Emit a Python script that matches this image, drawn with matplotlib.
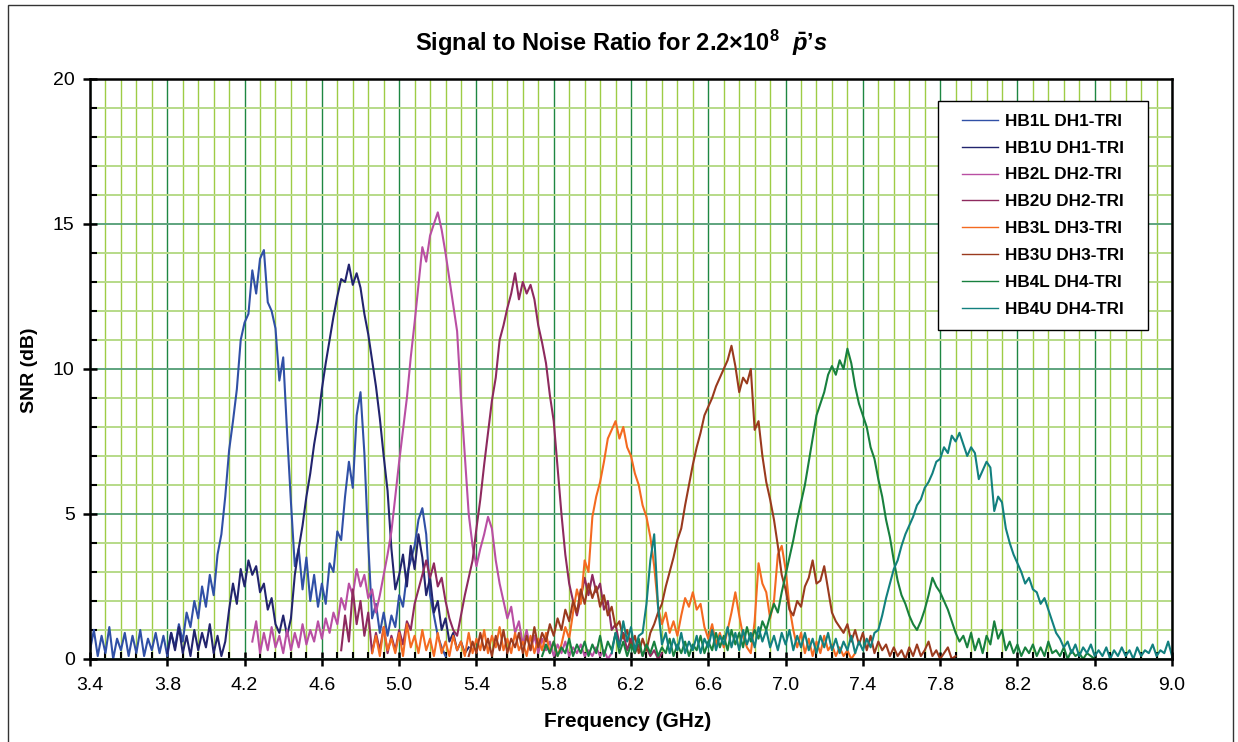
import numpy as np
import matplotlib
matplotlib.use('Agg')
import matplotlib.pyplot as plt
from matplotlib.patches import Rectangle
from matplotlib.ticker import MultipleLocator

plt.rcParams['font.family'] = 'Liberation Sans'
plt.rcParams['mathtext.fontset'] = 'custom'
plt.rcParams['mathtext.rm'] = 'Liberation Sans:bold'
plt.rcParams['mathtext.it'] = 'Liberation Sans:italic:bold'
plt.rcParams['mathtext.bf'] = 'Liberation Sans:bold'

# SNR traces, one value every 0.02 GHz from each start frequency
step = 0.02

hb1l_start = 3.40
hb1l = [0.3, 1.0, 0.1, 0.8, 0.2, 1.1, 0.0, 0.7, 0.3, 0.9, 0.1, 0.8, 0.2, 1.0, 0.1, 0.7,
        0.3, 0.9, 0.2, 0.8, 0.1, 0.9, 0.4, 1.2, 0.6, 1.6, 1.1, 2.0, 1.4, 2.5, 1.8, 2.9,
        2.2, 3.6, 4.3, 5.6, 7.2, 8.2, 9.3, 11.0, 11.6, 11.9, 13.4, 12.6, 13.8, 14.1, 12.3,
        12.0, 11.4, 9.6, 10.4, 7.8, 5.4, 3.2, 3.8, 2.4, 3.5, 2.0, 2.9, 1.8, 2.6, 1.9, 3.3,
        3.0, 4.4, 4.1, 5.6, 6.8, 5.9, 8.4, 9.2, 7.1, 4.0, 1.4, 1.9, 0.9, 1.6, 0.8, 1.5,
        1.1, 2.2, 1.8, 2.9, 3.4, 3.9, 4.8, 5.2, 4.3, 2.2, 1.5, 0.8, 0.4, 0.1]

hb1u_start = 3.80
hb1u = [0.2, 0.9, 0.3, 1.1, 0.2, 0.8, 0.1, 1.0, 0.3, 0.9, 0.4, 1.2, 0.2, 0.8, 0.1, 0.6,
        1.7, 2.6, 1.9, 3.1, 2.5, 3.4, 2.9, 3.2, 2.3, 2.6, 1.7, 2.1, 1.2, 0.9, 1.5, 0.8,
        1.4, 2.9, 3.8, 4.6, 5.6, 6.4, 7.4, 8.2, 9.3, 10.2, 11.0, 11.8, 12.5, 13.1, 13.0,
        13.6, 12.9, 13.3, 12.8, 11.9, 11.2, 10.3, 9.4, 8.3, 7.0, 5.8, 3.8, 2.4, 2.9, 3.6,
        2.5, 3.9, 3.1, 4.3, 3.5, 2.2, 2.8, 1.6, 2.0, 1.0, 1.4, 0.6, 0.9, 0.3, 0.6, 0.2, 0.4]

hb2l_start = 4.24
hb2l = [0.6, 1.3, 0.2, 0.9, 0.3, 1.1, 0.4, 0.8, 0.2, 1.0, 0.3, 0.9, 0.4, 1.2, 0.5, 1.0,
        0.6, 1.3, 0.7, 1.4, 0.9, 1.6, 1.2, 2.1, 1.7, 2.6, 2.2, 3.1, 2.5, 2.9, 2.1, 2.4,
        1.6, 2.2, 2.9, 3.6, 4.4, 5.6, 6.8, 7.9, 9.0, 10.4, 11.6, 12.9, 14.2, 13.7, 14.6,
        15.0, 15.4, 14.8, 14.0, 13.1, 12.2, 11.3, 9.0, 7.0, 5.0, 3.9, 3.2, 3.8, 4.3, 4.9,
        4.5, 3.4, 2.6, 2.0, 1.4, 1.8, 0.9, 1.3, 0.5, 1.0, 0.3, 0.8, 0.2, 0.7, 0.3, 0.6,
        0.1, 0.5, 0.2, 0.6, 0.1, 0.4, 0.2, 0.5, 0.1, 0.3, 0.1, 0.4, 0.1, 0.3, 0.0, 0.2]

hb2u_start = 4.70
hb2u = [0.3, 1.5, 0.6, 2.4, 1.2, 2.0, 0.8, 1.6, 0.2, 0.9, 0.3, 1.1, 0.2, 0.8, 0.3, 1.0,
        0.5, 1.3, 1.0, 1.9, 2.4, 2.9, 3.4, 2.8, 3.3, 2.5, 2.8, 2.0, 1.4, 1.0, 0.8, 1.5,
        2.2, 2.8, 3.4, 4.5, 5.5, 6.7, 7.8, 8.9, 9.7, 11.0, 11.5, 12.1, 12.6, 13.3, 12.4,
        13.0, 12.6, 12.9, 12.4, 11.5, 10.9, 10.2, 9.1, 8.2, 6.6, 5.0, 3.6, 2.6, 2.0, 1.5,
        2.1, 2.8, 2.2, 2.9, 2.3, 2.6, 1.7, 2.0, 1.0, 1.2, 0.5, 0.9, 0.3, 0.7, 0.2, 0.5,
        0.1, 0.4, 0.1, 0.3, 0.0, 0.2]

hb3l_start = 4.86
hb3l = [0.2, 0.8, 0.1, 1.1, 0.3, 0.7, 0.2, 0.9, 0.1, 1.2, 0.4, 0.8, 0.2, 1.0, 0.3, 0.7,
        0.1, 0.9, 0.2, 0.6, 0.1, 0.8, 0.3, 0.6, 0.1, 0.9, 0.2, 0.7, 0.3, 1.0, 0.2, 0.8,
        0.4, 1.1, 0.3, 0.7, 0.2, 0.9, 0.3, 0.6, 0.1, 0.8, 0.2, 0.7, 0.3, 0.9, 0.2, 0.6,
        0.1, 0.5, 1.1, 0.7, 1.6, 2.4, 1.9, 3.4, 3.0, 4.9, 5.6, 6.1, 6.8, 7.6, 7.9, 8.2,
        7.6, 8.0, 7.3, 7.0, 6.4, 6.0, 5.3, 4.9, 4.2, 3.2, 1.8, 1.2, 1.6, 0.9, 1.3, 0.8,
        1.5, 2.1, 1.8, 2.3, 1.7, 1.9, 1.1, 0.7, 1.2, 0.5, 0.9, 0.4, 1.0, 1.6, 2.3, 1.5,
        0.8, 0.4, 0.2, 1.3, 3.3, 2.6, 2.3, 1.4, 2.0, 3.6, 3.9, 3.1, 1.8, 1.0, 0.4, 0.9,
        0.2, 0.7, 0.1, 0.6, 0.2, 0.8, 0.3, 0.5, 0.1, 0.4, 0.1, 0.3, 0.0, 0.2]

hb3u_start = 5.36
hb3u = [0.1, 0.6, 0.2, 0.9, 0.3, 0.7, 0.1, 0.8, 0.3, 1.0, 0.2, 0.7, 0.4, 0.9, 0.2, 0.8,
        0.3, 1.1, 0.4, 0.9, 0.6, 1.2, 0.8, 1.4, 1.0, 1.7, 1.3, 2.0, 1.6, 2.4, 1.9, 2.6,
        2.1, 2.5, 1.8, 2.2, 1.5, 1.8, 1.1, 1.3, 0.7, 1.0, 0.4, 0.8, 0.2, 0.7, 0.3, 0.9,
        1.2, 1.6, 1.9, 2.5, 3.0, 3.5, 4.1, 4.5, 5.3, 6.0, 6.7, 7.3, 7.8, 8.4, 8.7, 9.0,
        9.4, 9.7, 10.0, 10.3, 10.8, 10.1, 9.2, 9.7, 9.5, 10.0, 7.9, 8.2, 7.0, 6.1, 5.5,
        4.8, 3.9, 2.9, 2.4, 1.7, 1.5, 2.0, 1.8, 2.5, 2.8, 3.4, 2.6, 2.7, 3.2, 2.4, 1.6,
        1.3, 1.1, 0.9, 1.2, 0.6, 1.0, 0.5, 0.9, 0.3, 0.8, 0.2, 0.6, 0.3, 0.5, 0.1, 0.4,
        0.1, 0.3, 0.0, 0.4, 0.1, 0.5, 0.1, 0.3, 0.6, 0.1, 0.3, 0.0, 0.2, 0.4, 0.0, 0.1]

hb4l_start = 5.74
hb4l = [0.1, 0.5, 0.2, 0.6, 0.1, 0.4, 0.2, 0.7, 0.1, 0.5, 0.2, 0.6, 0.1, 0.5, 0.2, 0.8,
        0.1, 0.6, 0.3, 0.9, 0.2, 0.6, 0.1, 0.5, 0.2, 0.7, 0.1, 0.5, 0.2, 0.6, 0.1, 0.4,
        0.2, 0.7, 0.1, 0.5, 0.2, 0.6, 0.1, 0.5, 0.3, 0.8, 0.2, 0.6, 0.3, 0.9, 0.4, 0.8,
        0.3, 1.0, 0.5, 0.9, 0.4, 1.1, 0.6, 1.0, 0.7, 1.3, 1.0, 1.5, 1.9, 1.6, 2.3, 2.9,
        3.5, 4.1, 4.8, 5.4, 6.0, 6.8, 7.6, 8.4, 8.8, 9.2, 9.8, 10.1, 9.8, 10.3, 10.0,
        10.7, 10.2, 9.4, 8.8, 8.4, 8.0, 7.3, 6.9, 6.2, 5.6, 4.8, 4.2, 3.4, 2.7, 2.2, 1.9,
        1.5, 1.2, 1.0, 1.3, 1.7, 2.2, 2.8, 2.5, 2.3, 2.0, 1.7, 1.3, 0.9, 0.6, 0.8, 0.4,
        0.9, 0.3, 0.7, 0.2, 0.8, 0.5, 1.3, 0.7, 1.0, 0.3, 0.6, 0.2, 0.5, 0.1, 0.4, 0.2,
        0.5, 0.1, 0.4, 0.1, 0.6, 0.2, 0.3, 0.1, 0.4, 0.0, 0.3, 0.1, 0.2, 0.0, 0.2, 0.1, 0.0]

hb4u_start = 6.10
hb4u = [0.2, 0.9, 0.4, 1.3, 0.6, 1.1, 0.3, 0.8, 0.9, 1.9, 3.4, 4.3, 1.8, 0.5, 0.9, 0.2,
        0.7, 0.3, 0.9, 0.2, 0.6, 0.3, 0.8, 0.2, 0.7, 0.4, 1.0, 0.3, 0.8, 0.5, 1.1, 0.4,
        0.9, 0.3, 1.0, 0.5, 0.9, 0.4, 1.1, 0.6, 1.0, 0.4, 0.8, 0.3, 0.9, 0.5, 1.0, 0.3,
        0.8, 0.4, 0.9, 0.3, 0.7, 0.2, 0.8, 0.4, 0.9, 0.3, 0.7, 0.2, 0.6, 0.3, 0.8, 0.2,
        0.6, 0.3, 0.7, 0.4, 0.9, 1.0, 1.5, 2.1, 2.6, 3.1, 3.4, 3.9, 4.3, 4.6, 4.9, 5.3,
        5.5, 5.9, 6.1, 6.4, 6.8, 6.9, 7.3, 7.1, 7.7, 7.5, 7.8, 7.4, 7.0, 7.3, 7.1, 6.2,
        6.5, 6.8, 6.6, 5.1, 5.6, 5.4, 4.5, 4.0, 3.6, 3.3, 3.0, 2.6, 2.8, 2.4, 2.3, 1.9,
        2.1, 1.7, 1.3, 0.9, 0.7, 0.4, 0.6, 0.2, 0.5, 0.1, 0.4, 0.2, 0.5, 0.1, 0.3, 0.1,
        0.4, 0.0, 0.3, 0.1, 0.4, 0.1, 0.3, 0.0, 0.4, 0.1, 0.3, 0.2, 0.5, 0.1, 0.3, 0.2,
        0.6, 0.1]

labels = ['HB1L DH1-TRI', 'HB1U DH1-TRI', 'HB2L DH2-TRI', 'HB2U DH2-TRI',
          'HB3L DH3-TRI', 'HB3U DH3-TRI', 'HB4L DH4-TRI', 'HB4U DH4-TRI']
starts = [hb1l_start, hb1u_start, hb2l_start, hb2u_start,
          hb3l_start, hb3u_start, hb4l_start, hb4u_start]
series = [hb1l, hb1u, hb2l, hb2u, hb3l, hb3u, hb4l, hb4u]
colors = ['#3050A6', '#22246E', '#B94FA3', '#8E2A5E',
          '#F46A20', '#9A3A1E', '#18803E', '#12807F']

fig = plt.figure(figsize=(12.38, 7.42), dpi=100)
ax = fig.add_axes([0.0727, 0.1119, 0.874, 0.7817])

for f0, snr, c, lab in zip(starts, series, colors, labels):
    f = f0 + step * np.arange(len(snr))
    ax.plot(f, snr, color=c, lw=1.5, label=lab)

ax.set_xlim(3.4, 9.0)
ax.set_ylim(0, 20)
ax.set_xticks(np.arange(3.4, 9.001, 0.4))
ax.set_xticks(np.arange(3.4, 9.001, 0.08), minor=True)
ax.yaxis.set_major_locator(MultipleLocator(5))
ax.yaxis.set_minor_locator(MultipleLocator(1))
ax.xaxis.set_major_formatter(plt.FormatStrFormatter('%.1f'))

# excel style green grid
ax.set_axisbelow(True)
ax.grid(which='minor', axis='x', color='#9ECC45', lw=1.0)
ax.grid(which='minor', axis='y', color='#B7DA88', lw=1.4)
ax.grid(which='major', axis='x', color='#1E8742', lw=1.0)
ax.grid(which='major', axis='y', color='#5EA47E', lw=1.4)

for s in ax.spines.values():
    s.set_linewidth(1.8)
ax.tick_params(which='major', direction='inout', length=10, width=1.8,
               labelsize=14, pad=6)
ax.tick_params(which='minor', direction='in', length=5, width=1.5)
ax.tick_params(axis='x', which='major', pad=8)

fig.text(0.507, 0.027, 'Frequency (GHz)', ha='center', va='center',
         fontsize=15, fontweight='bold')
fig.text(0.024, 0.501, 'SNR (dB)', ha='center', va='center', rotation=90,
         fontsize=14, fontweight='bold')
fig.text(0.502, 0.942, 'Signal to Noise Ratio for 2.2\u00d710$^{8}$  $\\bar{p}\\mathit{\u2019s}$',
         ha='center', va='center', fontsize=17, fontweight='bold')

# legend box
ax.add_patch(Rectangle((0.7837, 0.567), 0.1941, 0.395, transform=ax.transAxes,
                       facecolor='white', edgecolor='black', lw=1.0, zorder=4.9))
leg = ax.legend(loc='center', bbox_to_anchor=(0.8808, 0.7647), frameon=False,
                prop={'weight': 'bold', 'size': 12.3}, handlelength=2.1,
                handletextpad=0.4, labelspacing=0.7)
leg.set_zorder(5)
for h in leg.get_lines():
    h.set_linewidth(1.0)

# outer chart border
fig.add_artist(Rectangle((0.0065, -0.02), 0.9895, 1.0133, transform=fig.transFigure,
                         facecolor='none', edgecolor='#333333', lw=1.0))

fig.savefig('out.png', dpi=100)
